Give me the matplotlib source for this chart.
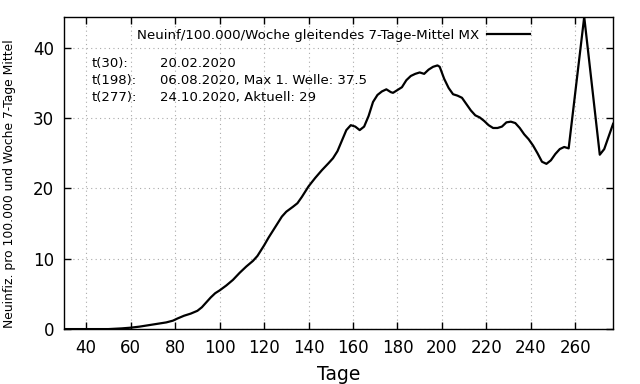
from matplotlib import pyplot as plt

# 7-day moving average, new infections per 100k per week
tage = [30, 40, 50, 53, 56, 60, 64, 68, 72, 76, 79, 81, 84, 87, 90, 92, 94, 96, 98,
        100, 103, 106, 109, 112, 115, 117, 120, 122, 124, 126, 128, 130, 133, 135,
        137, 140, 143, 146, 149, 151, 153, 155, 157, 159, 161, 163, 165, 167, 169,
        171, 173, 175, 177, 178, 180, 182, 184, 186, 188, 190, 192, 194, 196, 198,
        199, 201, 203, 205, 207, 209, 211, 213, 215, 217, 219, 221, 223, 225, 227,
        229, 231, 233, 235, 237, 239, 241, 243, 245, 247, 249, 251, 253, 255, 257,
        264, 271, 273, 275, 277]
inzidenz = [0, 0, 0, 0.05, 0.1, 0.2, 0.35, 0.55, 0.75, 0.95, 1.2, 1.5, 1.9, 2.2, 2.6,
            3.1, 3.8, 4.5, 5.1, 5.5, 6.2, 7.0, 8.0, 8.9, 9.7, 10.4, 11.9, 13.0, 14.0,
            15.0, 16.0, 16.7, 17.4, 17.9, 18.8, 20.3, 21.5, 22.6, 23.6, 24.3, 25.3,
            26.8, 28.3, 29.0, 28.8, 28.3, 28.8, 30.3, 32.3, 33.3, 33.8, 34.1, 33.7,
            33.6, 34.0, 34.4, 35.4, 36.0, 36.3, 36.5, 36.3, 36.9, 37.3, 37.5, 37.3,
            35.6, 34.3, 33.4, 33.2, 32.9, 32.0, 31.1, 30.4, 30.1, 29.6, 29.0, 28.6,
            28.6, 28.8, 29.4, 29.5, 29.3, 28.6, 27.7, 27.0, 26.1, 25.0, 23.8, 23.5,
            24.0, 24.9, 25.6, 25.9, 25.7, 44.4, 24.8, 25.6, 27.4, 29.2]

info_links = ["t(30):", "t(198):", "t(277):"]
info_rechts = ["20.02.2020", "06.08.2020, Max 1. Welle: 37.5", "24.10.2020, Aktuell: 29"]

fig = plt.figure(figsize=(6.4, 3.84), dpi=100)
ax = fig.add_axes([0.1, 0.143, 0.858, 0.813])

ax.plot(tage, inzidenz, color='black', lw=1.6,
        label='Neuinf/100.000/Woche gleitendes 7-Tage-Mittel MX')

ax.set_xlim(30, 277)
ax.set_ylim(0, 44.4)
ax.set_xticks(range(40, 261, 20))
ax.set_yticks(range(0, 41, 10))
ax.tick_params(direction='in', length=5, width=1, labelsize=12,
               top=True, right=True, pad=7)
ax.grid(True, linestyle=(0, (1, 3)), color='#aaaaaa', lw=0.8)
for s in ax.spines.values():
    s.set_linewidth(1.0)

ax.set_xlabel('Tage', fontsize=13.5, labelpad=6)
ax.set_ylabel('Neuinfiz. pro 100.000 und Woche 7-Tage Mittel', fontsize=8.9)
ax.yaxis.set_label_coords(-0.087, 0.466)

ax.legend(loc='upper right', bbox_to_anchor=(0.87, 1.0), frameon=False,
          markerfirst=False, fontsize=9.6, handlelength=3.2, handletextpad=0.6)

for i, (a, b) in enumerate(zip(info_links, info_rechts)):
    y = 0.852 - i * 0.0545
    ax.text(0.05, y, a, transform=ax.transAxes, fontsize=9.5, va='center')
    ax.text(0.175, y, b, transform=ax.transAxes, fontsize=9.5, va='center')

fig.savefig('out.png', dpi=100)
